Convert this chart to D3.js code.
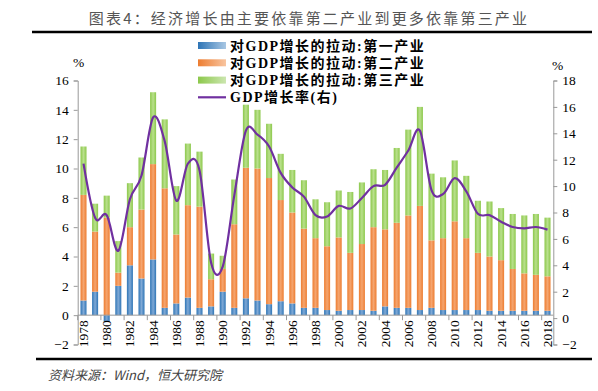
<!DOCTYPE html>
<html lang="zh">
<head>
<meta charset="utf-8">
<title>经济增长</title>
<script src="https://d3js.org/d3.v7.min.js"></script>
<style>
  body { margin: 0; background: #fff; }
  svg { display: block; }
  .num { font-family: "Liberation Serif", "Times New Roman", serif; font-size: 13.5px; fill: #000; }
</style>
</head>
<body>
<script>
// data
var years = d3.range(1978, 2019);
var primary = [1.0, 1.6, -0.45, 2.0, 3.4, 2.5, 3.8, 0.5, 0.8, 1.2, 0.5, 0.6, 1.6, 0.5, 1.15, 1.0, 0.75, 0.95, 0.8, 0.5,
               0.5, 0.35, 0.3, 0.35, 0.35, 0.3, 0.6, 0.5, 0.5, 0.35, 0.5, 0.35, 0.35, 0.35, 0.35, 0.3, 0.3, 0.3, 0.3, 0.3, 0.3];
var secondary = [7.2, 4.1, 6.65, 0.9, 2.6, 4.7, 6.5, 8.15, 4.7, 6.3, 6.9, 1.85, 1.55, 5.7, 8.9, 9.0, 8.6, 6.9, 6.2, 5.4,
                 4.75, 4.35, 5.0, 3.9, 4.5, 5.7, 5.25, 5.8, 6.3, 7.1, 4.6, 4.9, 6.05, 4.9, 3.9, 3.7, 3.45, 2.85, 2.55, 2.45, 2.35];
var tertiary = [3.3, 1.9, 1.5, 2.15, 3.0, 3.55, 4.9, 4.7, 3.3, 4.2, 3.75, 1.75, 0.9, 3.05, 4.3, 4.0, 3.7, 3.15, 2.9, 3.3,
                2.65, 3.0, 3.2, 4.15, 4.2, 3.95, 4.05, 5.1, 5.85, 6.75, 4.55, 4.15, 4.15, 4.25, 3.55, 3.75, 3.55, 3.75, 3.95, 4.15, 4.0];
var gdp = [11.7, 7.6, 7.8, 5.1, 9.0, 10.8, 15.2, 13.4, 8.9, 11.7, 11.2, 4.2, 3.9, 9.3, 14.2, 13.9, 13.0, 11.0, 9.9, 9.2,
           7.8, 7.7, 8.5, 8.3, 9.1, 10.0, 10.1, 11.4, 12.7, 14.2, 9.7, 9.4, 10.6, 9.6, 7.9, 7.8, 7.3, 6.9, 6.8, 6.9, 6.7];
var seriesNames = ["对GDP增长的拉动:第一产业", "对GDP增长的拉动:第二产业", "对GDP增长的拉动:第三产业"];
var lineName = "GDP增长率(右)";
var leftTicks = d3.range(-2, 17, 2);
var rightTicks = d3.range(-2, 19, 2);

var W = 598, H = 391;
var svg = d3.select("body").append("svg").attr("width", W).attr("height", H);

// gradients for the bars, dark edges with a lighter streak
var colors = [["#2e75b6", "#7fa9d6", "#a9c7e3"], ["#ed7d31", "#f5a56f", "#f8c5a0"], ["#8cc84b", "#b9e08c", "#cce6b0"]];
var defs = svg.append("defs");
colors.forEach(function(c, i) {
  var g = defs.append("linearGradient").attr("id", "g" + i)
      .attr("x1", "0").attr("x2", "1").attr("y1", "0").attr("y2", "0");
  g.append("stop").attr("offset", "0%").attr("stop-color", c[0]);
  g.append("stop").attr("offset", "50%").attr("stop-color", c[1]);
  g.append("stop").attr("offset", "100%").attr("stop-color", c[0]);
  var l = defs.append("linearGradient").attr("id", "l" + i)
      .attr("x1", "0").attr("x2", "1").attr("y1", "0").attr("y2", "0");
  l.append("stop").attr("offset", "0%").attr("stop-color", c[0]);
  l.append("stop").attr("offset", "100%").attr("stop-color", c[2]);
});

// title and frame lines
svg.append("text")
   .attr("x", 309).attr("y", 24)
   .attr("text-anchor", "middle")
   .style("font-family", "'Noto Sans CJK SC', sans-serif")
   .style("font-size", "15px")
   .style("letter-spacing", "2.2px")
   .style("fill", "#555")
   .text("图表4：经济增长由主要依靠第二产业到更多依靠第三产业");

svg.append("line").attr("x1", 32).attr("x2", 592).attr("y1", 32).attr("y2", 32)
   .style("stroke", "#000").style("stroke-width", 2.5);
svg.append("line").attr("x1", 36).attr("x2", 592).attr("y1", 359).attr("y2", 359)
   .style("stroke", "#000").style("stroke-width", 2.5);

svg.append("text")
   .attr("x", 48).attr("y", 380)
   .style("font-family", "'Noto Sans CJK SC', sans-serif")
   .style("font-size", "13px")
   .style("font-style", "italic")
   .style("fill", "#444")
   .text("资料来源：Wind，恒大研究院");

// scales
var x = d3.scaleBand().domain(years).range([77.7, 553.3]).paddingInner(0.48).paddingOuter(0.24);
var yL = d3.scaleLinear().domain([-2, 16]).range([344.5, 80.5]);
var yR = d3.scaleLinear().domain([-2, 18]).range([344.5, 80.5]);

// stacked bars (negative goes below zero)
var stacks = [primary, secondary, tertiary];
years.forEach(function(yr, i) {
  var pos = 0, neg = 0;
  stacks.forEach(function(s, k) {
    var v = s[i], y0, y1;
    if (v >= 0) { y0 = pos; y1 = pos + v; pos = y1; }
    else { y0 = neg + v; y1 = neg; neg = y0; }
    svg.append("rect")
       .attr("x", x(yr))
       .attr("width", x.bandwidth())
       .attr("y", yL(y1))
       .attr("height", yL(y0) - yL(y1))
       .attr("fill", "url(#g" + k + ")");
  });
});

// left axis
var axL = svg.append("g").attr("transform", "translate(77.7,0)")
   .call(d3.axisLeft(yL).tickValues(leftTicks).tickSize(4).tickPadding(5));
axL.selectAll("text").attr("class", "num");
axL.selectAll("path, line").style("stroke", "#999");

// right axis
var axR = svg.append("g").attr("transform", "translate(553.3,0)")
   .call(d3.axisRight(yR).tickValues(rightTicks).tickSize(4).tickPadding(5));
axR.selectAll("text").attr("class", "num");
axR.selectAll("path, line").style("stroke", "#999");

// x axis on the zero line
var step = x.step();
var xa = svg.append("g");
xa.append("line").attr("x1", 77.7).attr("x2", 553.3).attr("y1", yL(0)).attr("y2", yL(0))
  .style("stroke", "#999");
years.forEach(function(yr, i) {
  if (i % 2 === 0) {
    var bx = x(yr) - (step - x.bandwidth()) / 2;
    xa.append("line").attr("x1", bx).attr("x2", bx).attr("y1", yL(0)).attr("y2", yL(0) + 5)
      .style("stroke", "#999");
    xa.append("text").attr("class", "num")
      .attr("transform", "translate(" + (x(yr) + x.bandwidth() / 2 + 4.5) + "," + (yL(0) + 5) + ") rotate(-90)")
      .attr("text-anchor", "end")
      .text(yr);
  }
});

// GDP line on right axis
var line = d3.line()
   .x(function(d, i) { return x(years[i]) + x.bandwidth() / 2; })
   .y(function(d) { return yR(d); })
   .curve(d3.curveCatmullRom.alpha(0));
svg.append("path").datum(gdp)
   .attr("d", line)
   .style("fill", "none")
   .style("stroke", "#7030a0")
   .style("stroke-width", 2.2);

// % labels
svg.append("text").attr("class", "num").attr("x", 73).attr("y", 67).text("%");
svg.append("text").attr("class", "num").attr("x", 552).attr("y", 70).text("%");

// legend
var lg = svg.append("g");
seriesNames.forEach(function(n, i) {
  var yy = 45.5 + i * 17.3;
  lg.append("rect").attr("x", 198).attr("y", yy - 3.5).attr("width", 28).attr("height", 7)
    .attr("fill", "url(#l" + i + ")");
  lg.append("text").attr("x", 230).attr("y", yy + 5)
    .style("font-family", "'Liberation Serif', 'Noto Sans CJK SC', serif")
    .style("font-weight", "bold").style("font-size", "14px")
    .style("letter-spacing", "1.5px")
    .text(n);
});
lg.append("line").attr("x1", 198).attr("x2", 226).attr("y1", 97.3).attr("y2", 97.3)
  .style("stroke", "#7030a0").style("stroke-width", 2.2);
lg.append("text").attr("x", 230).attr("y", 102.3)
  .style("font-family", "'Liberation Serif', 'Noto Sans CJK SC', serif")
  .style("font-weight", "bold").style("font-size", "14px")
  .style("letter-spacing", "1.5px")
  .text(lineName);
</script>
</body>
</html>
